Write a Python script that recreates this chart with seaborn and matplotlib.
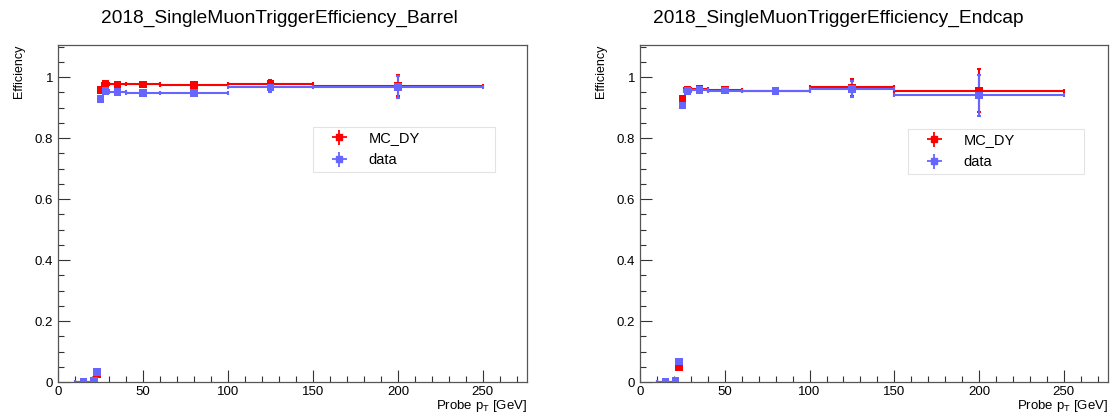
import numpy as np
import pandas as pd
import matplotlib
matplotlib.use("Agg")
import matplotlib.pyplot as plt
import seaborn as sns
from matplotlib.ticker import MultipleLocator

# ---- data ----
bin_edges = [10, 20, 22, 24, 26, 30, 40, 60, 100, 150, 250]
barrel_mc = [0.001, 0.002, 0.027, 0.957, 0.978, 0.976, 0.976, 0.974, 0.977, 0.972]
barrel_mc_err = [0.002, 0.002, 0.004, 0.004, 0.003, 0.003, 0.003, 0.004, 0.012, 0.035]
barrel_data = [0.001, 0.003, 0.033, 0.929, 0.954, 0.951, 0.948, 0.948, 0.966, 0.968]
barrel_data_err = [0.002, 0.002, 0.005, 0.005, 0.004, 0.004, 0.004, 0.005, 0.014, 0.035]
endcap_mc = [0.001, 0.002, 0.048, 0.929, 0.960, 0.961, 0.958, 0.956, 0.966, 0.956]
endcap_mc_err = [0.002, 0.002, 0.005, 0.006, 0.005, 0.005, 0.005, 0.006, 0.028, 0.072]
endcap_data = [0.001, 0.004, 0.067, 0.907, 0.955, 0.958, 0.956, 0.954, 0.962, 0.940]
endcap_data_err = [0.002, 0.002, 0.006, 0.008, 0.006, 0.006, 0.006, 0.007, 0.026, 0.066]
titles = ["2018_SingleMuonTriggerEfficiency_Barrel", "2018_SingleMuonTriggerEfficiency_Endcap"]
series_names = ["MC_DY", "data"]
colors = {"MC_DY": "#ff0000", "data": "#6666ff"}

edges = np.array(bin_edges, dtype=float)
centers = 0.5 * (edges[:-1] + edges[1:])
halfw = 0.5 * (edges[1:] - edges[:-1])

sns.set_theme(style="ticks")
plt.rcParams["font.family"] = ["Liberation Sans", "DejaVu Sans"]
plt.rcParams["text.color"] = "black"
plt.rcParams["axes.labelcolor"] = "black"

fig = plt.figure(figsize=(11.18, 4.18), dpi=100)
ax1 = fig.add_axes([0.0519, 0.0861, 0.4195, 0.806])
ax2 = fig.add_axes([0.5725, 0.0861, 0.4185, 0.806])

panels = [
    (ax1, titles[0], barrel_mc, barrel_mc_err, barrel_data, barrel_data_err, 0.25,
     (0.544, 0.623, 0.388, 0.134)),
    (ax2, titles[1], endcap_mc, endcap_mc_err, endcap_data, endcap_data_err, 0.75,
     (0.573, 0.623, 0.376, 0.128)),
]

for ax, title, mc, mce, da, dae, cx, legbox in panels:
    rows = []
    for name, vals, errs in [("MC_DY", mc, mce), ("data", da, dae)]:
        for c, hw, v, e in zip(centers, halfw, vals, errs):
            rows.append(dict(pt=c, hw=hw, eff=v, err=e, sample=name))
    df = pd.DataFrame(rows)
    for name in series_names:
        sub = df[df["sample"] == name]
        ax.errorbar(sub["pt"], sub["eff"], xerr=sub["hw"], yerr=sub["err"],
                    fmt="none", ecolor=colors[name], elinewidth=1.5,
                    capsize=1.5, capthick=1.5, zorder=2)
        sns.scatterplot(data=sub, x="pt", y="eff", color=colors[name], marker="s",
                        s=30, edgecolor="none", ax=ax, zorder=3, legend=False)
    ax.set_xlim(0, 276)
    ax.set_ylim(0, 1.105)
    ax.xaxis.set_major_locator(MultipleLocator(50))
    ax.xaxis.set_minor_locator(MultipleLocator(10))
    ax.yaxis.set_major_locator(MultipleLocator(0.2))
    ax.yaxis.set_minor_locator(MultipleLocator(0.05))
    ax.set_yticks([0, 0.2, 0.4, 0.6, 0.8, 1.0])
    ax.set_yticklabels(["0", "0.2", "0.4", "0.6", "0.8", "1"])
    ax.tick_params(axis="both", which="major", direction="in", length=8.5, width=0.8,
                   labelsize=9.5, top=False, right=False, color="#333333",
                   labelcolor="black")
    ax.tick_params(axis="both", which="minor", direction="in", length=4.5, width=0.8,
                   top=False, right=False, color="#333333")
    ax.tick_params(axis="x", pad=3)
    for sp in ax.spines.values():
        sp.set_color("#555555")
        sp.set_linewidth(0.9)
    ax.set_xlabel("Probe p$_{\\mathregular{T}}$ [GeV]", fontsize=9.5, loc="right", labelpad=0)
    ax.set_ylabel("Efficiency", fontsize=9, loc="top", labelpad=7)
    fig.text(cx, 0.955, title, ha="center", va="center", fontsize=13.8)

    handles = []
    for name in series_names:
        h = ax.errorbar([], [], xerr=[], yerr=[], fmt="s", color=colors[name],
                        markersize=4, elinewidth=1.3, capsize=2.5, capthick=1.3)
        handles.append(h)
    leg = ax.legend(handles, series_names, loc="upper left",
                    bbox_to_anchor=legbox, mode="expand", fontsize=10.5, frameon=True,
                    fancybox=False, edgecolor="#dddddd", borderpad=0.3,
                    handlelength=3.0, handletextpad=0.5, labelspacing=0.55,
                    borderaxespad=0)
    leg.get_frame().set_linewidth(0.8)

fig.savefig("out.png", dpi=100)
